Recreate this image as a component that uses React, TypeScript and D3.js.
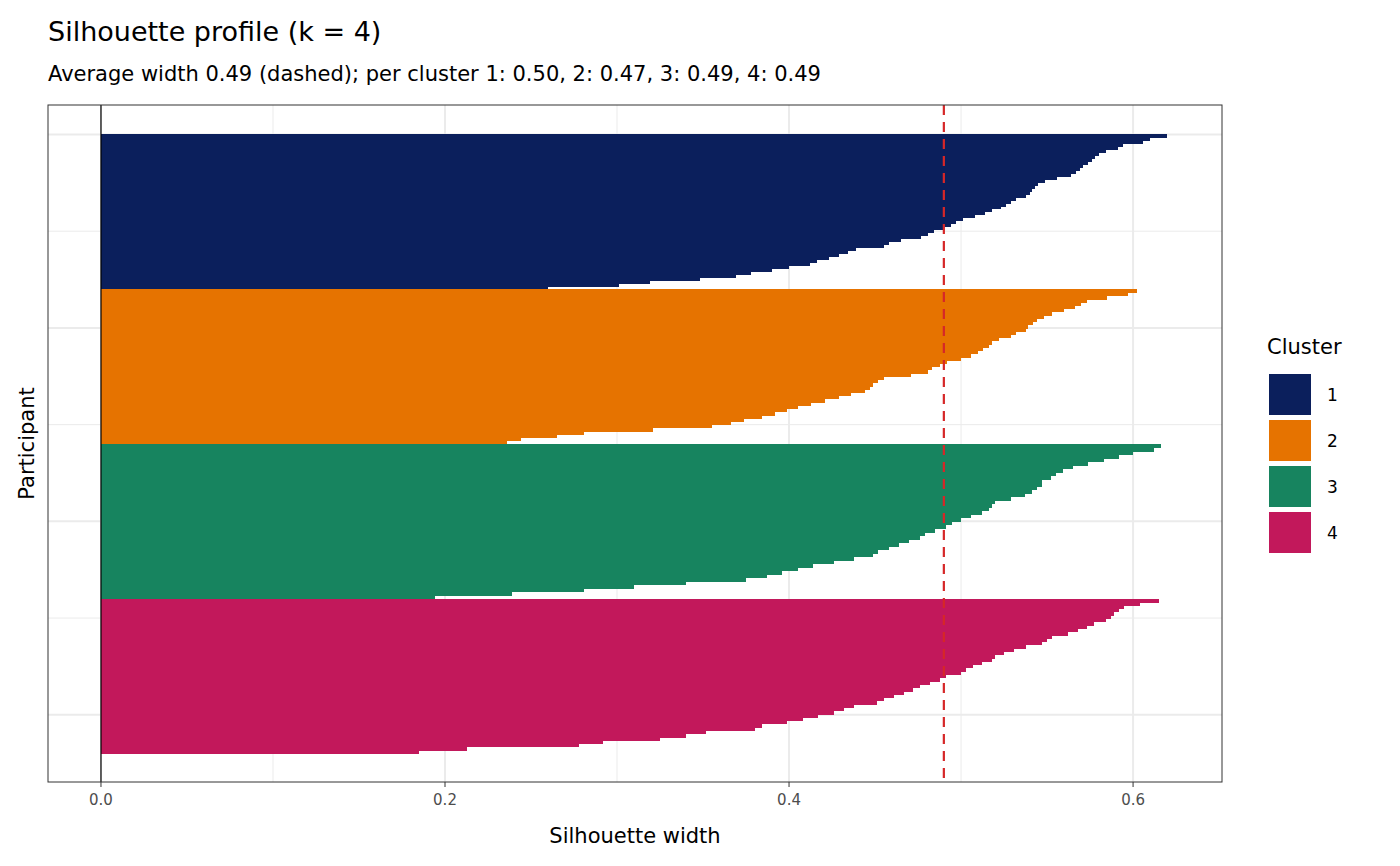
import React from 'react';
import * as d3 from 'd3';

const clusters = ['1', '2', '3', '4'];
const clusterColors = ['#0b1f5c', '#e67300', '#17845f', '#c2185b'];
const avgWidth = 0.49;
const clusterAvg = ['0.50', '0.47', '0.49', '0.49'];

// silhouette widths, sorted descending within each cluster
const cluster1 = [0.620, 0.610, 0.606, 0.594, 0.591, 0.584, 0.580, 0.578, 0.576, 0.574, 0.571, 0.569, 0.567, 0.564, 0.556, 0.549, 0.545, 0.543, 0.541, 0.540, 0.538, 0.532, 0.529, 0.526, 0.523, 0.518, 0.514, 0.508, 0.501, 0.497, 0.494, 0.490, 0.484, 0.481, 0.477, 0.465, 0.458, 0.455, 0.439, 0.434, 0.429, 0.423, 0.416, 0.412, 0.400, 0.390, 0.378, 0.369, 0.348, 0.319, 0.301, 0.260];
const cluster2 = [0.602, 0.597, 0.585, 0.573, 0.570, 0.566, 0.560, 0.553, 0.548, 0.544, 0.542, 0.539, 0.538, 0.532, 0.529, 0.522, 0.518, 0.516, 0.513, 0.510, 0.506, 0.500, 0.492, 0.488, 0.483, 0.481, 0.471, 0.455, 0.452, 0.449, 0.447, 0.444, 0.436, 0.429, 0.421, 0.413, 0.405, 0.399, 0.392, 0.384, 0.374, 0.366, 0.355, 0.321, 0.281, 0.265, 0.244, 0.236];
const cluster3 = [0.616, 0.612, 0.600, 0.592, 0.583, 0.574, 0.565, 0.559, 0.555, 0.552, 0.547, 0.547, 0.544, 0.541, 0.537, 0.529, 0.520, 0.518, 0.516, 0.512, 0.506, 0.500, 0.495, 0.491, 0.485, 0.479, 0.476, 0.470, 0.464, 0.458, 0.452, 0.449, 0.438, 0.426, 0.414, 0.405, 0.396, 0.387, 0.375, 0.340, 0.310, 0.281, 0.239, 0.194];
const cluster4 = [0.615, 0.604, 0.595, 0.592, 0.589, 0.587, 0.584, 0.577, 0.573, 0.568, 0.562, 0.553, 0.550, 0.547, 0.538, 0.531, 0.525, 0.520, 0.518, 0.512, 0.507, 0.503, 0.500, 0.491, 0.488, 0.482, 0.476, 0.472, 0.467, 0.461, 0.455, 0.451, 0.438, 0.432, 0.426, 0.417, 0.408, 0.399, 0.384, 0.380, 0.352, 0.340, 0.325, 0.292, 0.278, 0.213, 0.185];
const clusterValues = [cluster1, cluster2, cluster3, cluster4];

const nParticipants = 640;
const xTicks = [0, 0.2, 0.4, 0.6];
const xMinor = [0.1, 0.3, 0.5];
const yMajor = [0, 200, 400, 600];
const yMinor = [100, 300, 500];

const W = 1400;
const H = 866;
const panel = { left: 48, right: 1222, top: 105, bottom: 782 };
const font = 'DejaVu Sans, sans-serif';

export default function App() {
  const x = d3.scaleLinear().domain([-0.0308, 0.6517]).range([panel.left, panel.right]);
  // participant index runs top to bottom; each cluster gets a quarter of the height
  const y = d3.scaleLinear().domain([-30.5, nParticipants + 29.5]).range([panel.top, panel.bottom]);
  const perCluster = nParticipants / clusters.length;

  const bars: { x0: number; x1: number; y0: number; y1: number; color: string }[] = [];
  clusterValues.forEach((vals, ci) => {
    const step = perCluster / vals.length;
    vals.forEach((v, i) => {
      const a = ci * perCluster + i * step;
      bars.push({ x0: x(0), x1: x(v), y0: y(a), y1: y(a + step), color: clusterColors[ci] });
    });
  });

  const subtitle = `Average width ${avgWidth.toFixed(2)} (dashed); per cluster ` +
    clusters.map((c, i) => `${c}: ${clusterAvg[i]}`).join(', ');

  return (
    <svg width={W} height={H} style={{ display: 'block', margin: '-8px' }} fontFamily={font}>
      <rect width={W} height={H} fill="white" />
      <text x={48} y={41} fontSize={27} fill="#000">Silhouette profile (k = 4)</text>
      <text x={48} y={81} fontSize={21} fill="#000">{subtitle}</text>

      {xMinor.map(t => (
        <line key={'xm' + t} x1={x(t)} x2={x(t)} y1={panel.top} y2={panel.bottom} stroke="#ebebeb" strokeWidth={1} />
      ))}
      {yMinor.map(t => (
        <line key={'ym' + t} x1={panel.left} x2={panel.right} y1={y(t)} y2={y(t)} stroke="#ebebeb" strokeWidth={1} />
      ))}
      {xTicks.map(t => (
        <line key={'xM' + t} x1={x(t)} x2={x(t)} y1={panel.top} y2={panel.bottom} stroke="#ebebeb" strokeWidth={2} />
      ))}
      {yMajor.map(t => (
        <line key={'yM' + t} x1={panel.left} x2={panel.right} y1={y(t)} y2={y(t)} stroke="#ebebeb" strokeWidth={2} />
      ))}

      <g shapeRendering="crispEdges">
        {bars.map((b, i) => (
          <rect key={i} x={b.x0} y={b.y0} width={b.x1 - b.x0} height={b.y1 - b.y0 + 0.6} fill={b.color} />
        ))}
      </g>

      <line x1={x(0)} x2={x(0)} y1={panel.top} y2={panel.bottom} stroke="#000" strokeWidth={1.2} />
      <line x1={x(avgWidth)} x2={x(avgWidth)} y1={panel.top} y2={panel.bottom} stroke="#d62728" strokeWidth={2.2} strokeDasharray="10 7" />

      <rect x={panel.left} y={panel.top} width={panel.right - panel.left} height={panel.bottom - panel.top} fill="none" stroke="#333" strokeWidth={1} />

      {xTicks.map(t => (
        <g key={'xt' + t}>
          <line x1={x(t)} x2={x(t)} y1={panel.bottom} y2={panel.bottom + 5} stroke="#333" />
          <text x={x(t)} y={panel.bottom + 23} textAnchor="middle" fontSize={15} fill="#4d4d4d">{t.toFixed(1)}</text>
        </g>
      ))}
      <text x={(panel.left + panel.right) / 2} y={843} textAnchor="middle" fontSize={21}>Silhouette width</text>
      <text transform={`translate(34,${(panel.top + panel.bottom) / 2}) rotate(-90)`} textAnchor="middle" fontSize={21}>Participant</text>

      <text x={1267} y={354} fontSize={21}>Cluster</text>
      {clusters.map((c, i) => (
        <g key={c}>
          <rect x={1269} y={374 + i * 46} width={42} height={41} fill={clusterColors[i]} />
          <text x={1327} y={401 + i * 46} fontSize={17}>{c}</text>
        </g>
      ))}
    </svg>
  );
}
